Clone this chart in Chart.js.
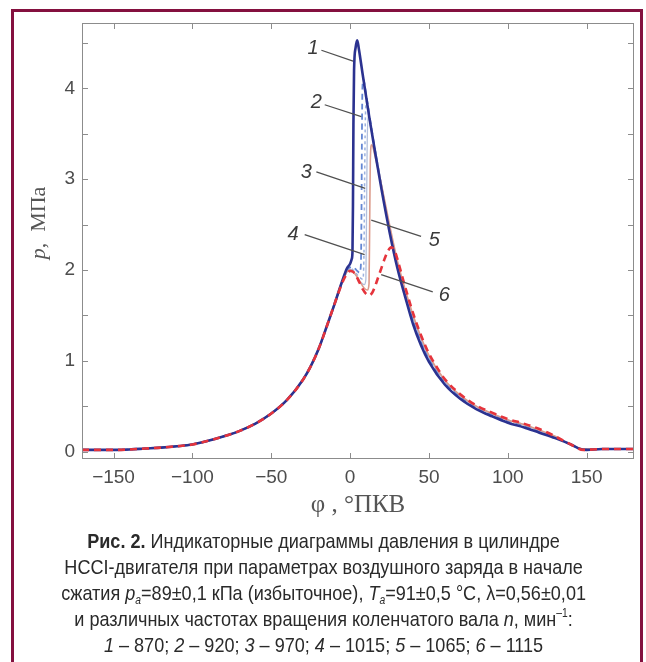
<!DOCTYPE html>
<html>
<head>
<meta charset="utf-8">
<script src="https://cdn.jsdelivr.net/npm/chart.js@4/dist/chart.umd.min.js"></script>
<style>
  body { margin:0; background:#fff; }
  #wrap { position:relative; width:646px; height:662px; overflow:hidden; }
  #grafico { position:absolute; left:0; top:0; }
  #moldura { position:absolute; left:11px; top:9px; width:626px; height:700px; border:3px solid #84103f; }
  #legenda { position:absolute; left:0; top:528px; width:646px; text-align:center;
    font-family:"Liberation Sans", Arial, sans-serif; font-size:21px; line-height:26px; color:#2a2a2a;
    transform:scaleX(0.86); transform-origin:327px 0; white-space:nowrap; }
  #legenda sub { font-size:12px; vertical-align:-4px; line-height:0; }
  #legenda sup { font-size:12px; vertical-align:9px; line-height:0; }
</style>
</head>
<body>
<div id="wrap">
  <canvas id="grafico" width="646" height="530"></canvas>
  <div id="moldura"></div>
  <div id="legenda">
    <div><b>Рис. 2.</b> Индикаторные диаграммы давления в цилиндре</div>
    <div>НССI-двигателя при параметрах воздушного заряда в начале</div>
    <div>сжатия <i>p<sub>a</sub></i>=89±0,1 кПа (избыточное), <i>T<sub>a</sub></i>=91±0,5 °С, λ=0,56±0,01</div>
    <div>и различных частотах вращения коленчатого вала <i>n</i>, мин<sup>–1</sup>:</div>
    <div><i>1</i> – 870; <i>2</i> – 920; <i>3</i> – 970; <i>4</i> – 1015; <i>5</i> – 1065; <i>6</i> – 1115</div>
  </div>
</div>
<script>
// ------------------- DADOS -------------------
// compressão (comum a todas as curvas)
const phiComp = [-170,-160,-150,-140,-130,-120,-110,-100,-90,-80,-70,-60,-50,-40,-30,-25,-20,-15,-10];
const pComp   = [0.02,0.02,0.02,0.025,0.035,0.045,0.06,0.08,0.12,0.17,0.23,0.31,0.42,0.57,0.79,0.94,1.13,1.37,1.62];

// 1 – 870
const phi1 = [-5,-2,0,1,1.5,1.8,2.1,2.5,3.5,4.5, 5.5,8,12,16,20,25,30,35,40,45, 50,60,70,80,90,100,110,120,130,140, 146,150,160,170,180];
const p1   = [1.88,2.02,2.07,2.12,2.2,2.7,3.6,4.2,4.45,4.53, 4.44,4.15,3.7,3.28,2.88,2.42,2.02,1.7,1.4,1.17, 0.99,0.74,0.58,0.47,0.39,0.32,0.27,0.21,0.15,0.08, 0.03,0.02,0.03,0.03,0.03];
// 2 – 920
const phi2 = [-5,-2,0,2,4,6,6.8,7.2,7.5,7.8, 8.4,10,13,16,20,25,30,35,40,45, 50,60,70,80,90,100,110,120,130,140, 147,160,180];
const p2   = [1.87,1.99,2.03,2.03,2.0,1.97,2.05,2.6,3.5,4.0, 4.1,3.95,3.62,3.3,2.9,2.45,2.05,1.73,1.44,1.2, 1.02,0.76,0.6,0.49,0.41,0.34,0.29,0.22,0.16,0.08, 0.03,0.03,0.03];
// 3 – 970
const phi3 = [-5,-2,0,3,6,8,8.8,9.2,9.6,10.2, 12,16,20,25,30,35,40,45,50,60, 70,80,90,100,110,120,130,140,147,160, 180];
const p3   = [1.87,1.98,2.02,1.98,1.92,1.9,2.2,3.0,3.6,3.85, 3.68,3.31,2.92,2.47,2.07,1.75,1.46,1.22,1.03,0.77, 0.61,0.5,0.42,0.35,0.3,0.23,0.16,0.08,0.03,0.03, 0.03];
// 4 – 1015
const phi4 = [-5,-2,0,3,6,9,10,10.4,10.8,11.4, 13,16,20,25,30,35,40,45,50,60, 70,80,90,100,110,120,130,140,147,160, 180];
const p4   = [1.87,1.98,2.01,1.96,1.88,1.84,1.9,2.6,3.35,3.7, 3.57,3.32,2.93,2.48,2.08,1.76,1.47,1.23,1.04,0.78, 0.61,0.5,0.42,0.35,0.3,0.23,0.16,0.08,0.03,0.03, 0.03];
// 5 – 1065
const phi5 = [-5,-2,0,3,6,9,11,12,12.4,12.8, 13.6,16,20,25,30,35,40,45,50,60, 70,80,90,100,110,120,130,140,148,160, 180];
const p5   = [1.87,1.98,2.0,1.96,1.88,1.8,1.78,1.85,2.5,3.2, 3.38,3.24,2.93,2.5,2.1,1.78,1.5,1.26,1.06,0.79, 0.62,0.5,0.42,0.35,0.3,0.24,0.17,0.08,0.03,0.03, 0.03];
// 6 – 1115
const phi6 = [-5,-2,0,2,4,6,8,10,12,14, 16,18,20,22,24,26,28,30,33,36, 40,45,50,55,60,70,80,90,100,110, 120,130,140,148,160,170,180];
const p6   = [1.86,1.96,1.99,1.98,1.93,1.86,1.79,1.74,1.72,1.75, 1.83,1.93,2.03,2.13,2.21,2.25,2.22,2.12,1.93,1.75, 1.52,1.28,1.08,0.93,0.8,0.63,0.51,0.43,0.36,0.31, 0.25,0.17,0.08,0.02,0.03,0.03,0.03];

// números das curvas: texto, posição do texto, início e fim da linha de chamada (em φ, p)
const rotulos   = ['1','2','3','4','5','6'];
const rotuloPhi = [-23.5,-21.4,-27.7,-36.2,53.4,59.8];
const rotuloP   = [4.44,3.84,3.08,2.39,2.33,1.72];
const linhaPhi0 = [-18.2,-16.1,-21.4,-28.8,45,52.4];
const linhaP0   = [4.42,3.82,3.08,2.39,2.37,1.76];
const linhaPhi1 = [1.9,7.1,9.6,9.2,13.4,19.7];
const linhaP1   = [4.3,3.69,2.9,2.17,2.55,1.95];

const xTicks = [-150,-100,-50,0,50,100,150];

function montar(phi, p){
  const pts = phiComp.map((x,i)=>({x:x, y:pComp[i]}));
  phi.forEach((x,i)=>pts.push({x:x, y:p[i]}));
  return pts;
}

// ------------------- MOLDURA / CHAMADAS -------------------
const moldura = {
  id:'moldura',
  afterDatasetsDraw(chart){
    const {ctx, chartArea:a, scales:{x, y}} = chart;
    ctx.save();

    ctx.strokeStyle = '#8c8c8c';
    ctx.lineWidth = 1;
    ctx.strokeRect(a.left+0.5, a.top+0.5, a.right-a.left-1, a.bottom-a.top-1);
    ctx.beginPath();
    x.ticks.forEach(t=>{
      const px = Math.round(x.getPixelForValue(t.value))+0.5;
      ctx.moveTo(px,a.bottom); ctx.lineTo(px,a.bottom-6);
      ctx.moveTo(px,a.top); ctx.lineTo(px,a.top+6);
    });
    y.ticks.forEach(t=>{
      const py = Math.round(y.getPixelForValue(t.value))+0.5;
      ctx.moveTo(a.left,py); ctx.lineTo(a.left+6,py);
      ctx.moveTo(a.right,py); ctx.lineTo(a.right-6,py);
    });
    ctx.stroke();

    // linhas de chamada
    ctx.strokeStyle = '#505050';
    ctx.lineWidth = 1.3;
    ctx.beginPath();
    rotulos.forEach((r,i)=>{
      ctx.moveTo(x.getPixelForValue(linhaPhi0[i]), y.getPixelForValue(linhaP0[i]));
      ctx.lineTo(x.getPixelForValue(linhaPhi1[i]), y.getPixelForValue(linhaP1[i]));
    });
    ctx.stroke();

    ctx.fillStyle = '#3a3a3a';
    ctx.font = 'italic 20px "Liberation Sans", Arial, sans-serif';
    ctx.textAlign = 'center';
    ctx.textBaseline = 'middle';
    rotulos.forEach((r,i)=>{
      ctx.fillText(r, x.getPixelForValue(rotuloPhi[i]), y.getPixelForValue(rotuloP[i]));
    });

    // título do eixo y: "p, МПа"
    ctx.translate(39, 223);
    ctx.rotate(-Math.PI/2);
    ctx.fillStyle = '#555';
    ctx.textAlign = 'left';
    const fItal = 'italic 22px "Liberation Serif", serif';
    const fNorm = '22px "Liberation Serif", serif';
    ctx.font = fItal; const w1 = ctx.measureText('p').width;
    ctx.font = fNorm; const w2 = ctx.measureText(',  МПа').width;
    const x0 = -(w1+w2)/2;
    ctx.font = fItal; ctx.fillText('p', x0, 0);
    ctx.font = fNorm; ctx.fillText(',  МПа', x0+w1, 0);

    ctx.restore();
  }
};

// ------------------- GRÁFICO -------------------
const fonteTicks = {family:'"Liberation Sans", Arial, sans-serif', size:19};

new Chart(document.getElementById('grafico'), {
  type:'line',
  data:{
    datasets:[
      {data:montar(phi6,p6), borderColor:'#e5343c', borderWidth:2.6, borderDash:[7,5], order:0},
      {data:montar(phi1,p1), borderColor:'#2b3290', borderWidth:2.6, order:1},
      {data:montar(phi5,p5), borderColor:'#dc9c8c', borderWidth:1.6, order:2},
      {data:montar(phi2,p2), borderColor:'#6487d4', borderWidth:1.8, borderDash:[6,4], order:3},
      {data:montar(phi3,p3), borderColor:'#9db2de', borderWidth:1.5, borderDash:[3,3], order:4},
      {data:montar(phi4,p4), borderColor:'#b3c0dc', borderWidth:1.3, order:5}
    ]
  },
  options:{
    responsive:false,
    devicePixelRatio:1,
    animation:false,
    layout:{padding:{top:23, right:12, left:0, bottom:0}},
    elements:{
      point:{radius:0},
      line:{cubicInterpolationMode:'monotone', fill:false}
    },
    plugins:{legend:{display:false}, tooltip:{enabled:false}},
    scales:{
      x:{
        type:'linear', min:-170, max:180,
        grid:{display:false, drawTicks:false},
        border:{display:false},
        afterBuildTicks: s => { s.ticks = xTicks.map(v=>({value:v})); },
        ticks:{
          padding:7, color:'#4d4d4d', font:fonteTicks, autoSkip:false, maxRotation:0,
          callback: v => String(v).replace('-','\u2212')
        },
        title:{display:true, text:'φ , °ПКВ', color:'#555',
          font:{family:'"Liberation Serif", serif', size:25}, padding:{top:0, bottom:10}},
        afterFit: s => { s.height = 71; }
      },
      y:{
        type:'linear', min:-0.08, max:4.72,
        grid:{display:false, drawTicks:false},
        border:{display:false},
        ticks:{
          stepSize:0.5, includeBounds:false, padding:7, color:'#4d4d4d', font:fonteTicks, autoSkip:false,
          callback: v => Number.isInteger(v) ? String(v) : ''
        },
        afterFit: s => { s.width = 82; }
      }
    }
  },
  plugins:[moldura]
});
</script>
</body>
</html>
